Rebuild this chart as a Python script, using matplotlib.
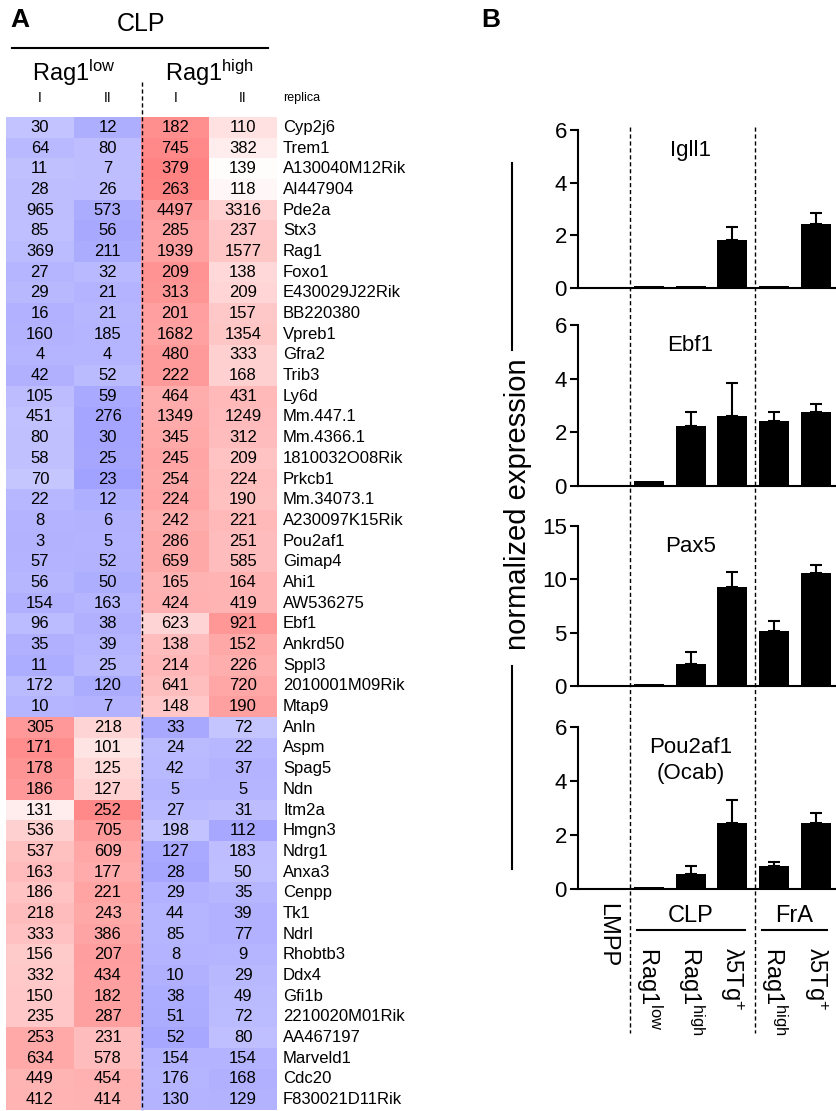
import numpy as np
import matplotlib
matplotlib.use('Agg')
import matplotlib.pyplot as plt
from matplotlib.lines import Line2D
from matplotlib.colors import LinearSegmentedColormap
from matplotlib.transforms import blended_transform_factory

plt.rcParams['font.family'] = ['Liberation Sans', 'DejaVu Sans']
plt.rcParams['mathtext.default'] = 'regular'

# ---- panel A data: microarray values per gene (Rag1low I/II, Rag1high I/II)
genes = ['Cyp2j6', 'Trem1', 'A130040M12Rik', 'AI447904', 'Pde2a', 'Stx3', 'Rag1',
         'Foxo1', 'E430029J22Rik', 'BB220380', 'Vpreb1', 'Gfra2', 'Trib3', 'Ly6d',
         'Mm.447.1', 'Mm.4366.1', '1810032O08Rik', 'Prkcb1', 'Mm.34073.1',
         'A230097K15Rik', 'Pou2af1', 'Gimap4', 'Ahi1', 'AW536275', 'Ebf1', 'Ankrd50',
         'Sppl3', '2010001M09Rik', 'Mtap9', 'Anln', 'Aspm', 'Spag5', 'Ndn', 'Itm2a',
         'Hmgn3', 'Ndrg1', 'Anxa3', 'Cenpp', 'Tk1', 'Ndrl', 'Rhobtb3', 'Ddx4', 'Gfi1b',
         '2210020M01Rik', 'AA467197', 'Marveld1', 'Cdc20', 'F830021D11Rik']
low_I = [30, 64, 11, 28, 965, 85, 369, 27, 29, 16, 160, 4, 42, 105, 451, 80, 58, 70, 22,
         8, 3, 57, 56, 154, 96, 35, 11, 172, 10, 305, 171, 178, 186, 131, 536, 537, 163,
         186, 218, 333, 156, 332, 150, 235, 253, 634, 449, 412]
low_II = [12, 80, 7, 26, 573, 56, 211, 32, 21, 21, 185, 4, 52, 59, 276, 30, 25, 23, 12,
          6, 5, 52, 50, 163, 38, 39, 25, 120, 7, 218, 101, 125, 127, 252, 705, 609, 177,
          221, 243, 386, 207, 434, 182, 287, 231, 578, 454, 414]
high_I = [182, 745, 379, 263, 4497, 285, 1939, 209, 313, 201, 1682, 480, 222, 464, 1349,
          345, 245, 254, 224, 242, 286, 659, 165, 424, 623, 138, 214, 641, 148, 33, 24, 42,
          5, 27, 198, 127, 28, 29, 44, 85, 8, 10, 38, 51, 52, 154, 176, 130]
high_II = [110, 382, 139, 118, 3316, 237, 1577, 138, 209, 157, 1354, 333, 168, 431, 1249,
           312, 209, 224, 190, 221, 251, 585, 164, 419, 921, 152, 226, 720, 190, 72, 22, 37,
           5, 31, 112, 183, 50, 35, 39, 77, 9, 29, 49, 72, 80, 154, 168, 129]
replica = ['I', 'II', 'I', 'II']

# ---- panel B data: qPCR, order LMPP, CLP Rag1low, CLP Rag1high, CLP l5Tg, FrA Rag1high, FrA l5Tg
igll1 = [0.05, 0.07, 0.07, 1.82, 0.07, 2.43]
igll1_err = [0, 0, 0, 0.50, 0, 0.42]
ebf1 = [0.05, 0.20, 2.24, 2.62, 2.44, 2.77]
ebf1_err = [0, 0, 0.50, 1.23, 0.30, 0.29]
pax5 = [0.12, 0.18, 2.06, 9.30, 5.18, 10.56]
pax5_err = [0, 0, 1.10, 1.40, 0.94, 0.78]
pou2af1 = [0.05, 0.08, 0.55, 2.46, 0.85, 2.46]
pou2af1_err = [0, 0, 0.30, 0.84, 0.15, 0.36]

W, H = 836, 1111
fig = plt.figure(figsize=(W / 100, H / 100), dpi=100)


def fax(x0, y0, x1, y1):
    return fig.add_axes([x0 / W, 1 - y1 / H, (x1 - x0) / W, (y1 - y0) / H])


def ftxt(x, y, s, **kw):
    return fig.text(x / W, 1 - y / H, s, **kw)


# ================= panel A =================
vals = np.array([low_I, low_II, high_I, high_II], dtype=float).T
z = (vals - vals.mean(axis=1, keepdims=True)) / vals.std(axis=1, keepdims=True)
cmap = LinearSegmentedColormap.from_list('bwr_soft', ['#7a7aff', '#ffffff', '#ff7a7a'])

axh = fax(6, 117, 277, 1110)
axh.imshow(z, cmap=cmap, vmin=-1.75, vmax=1.75, aspect='auto', interpolation='nearest')
axh.set_xlim(-0.5, 3.5)
axh.set_ylim(len(genes) - 0.5, -0.5)
axh.axis('off')
for i, g in enumerate(genes):
    for j in range(4):
        axh.text(j, i, str(int(vals[i, j])), ha='center', va='center', fontsize=12)
    axh.text(3.59, i, g, ha='left', va='center', fontsize=12, clip_on=False)

rowh = 993 / len(genes)
axh.plot([1.5, 1.5], [-0.5 - 35 / rowh, len(genes) - 0.5], color='k', lw=1,
         ls=(0, (3, 2)), clip_on=False)
for j, r in enumerate(replica):
    axh.text(j, -0.5 - 19 / rowh, r, ha='center', va='center', fontsize=10, clip_on=False)
axh.text(3.59, -0.5 - 19 / rowh, 'replica', ha='left', va='center', fontsize=9,
         clip_on=False)
axh.text(0.5, -0.5 - 44 / rowh, r'Rag1$^{low}$', ha='center', va='center', fontsize=17,
         clip_on=False)
axh.text(2.5, -0.5 - 44 / rowh, r'Rag1$^{high}$', ha='center', va='center', fontsize=17,
         clip_on=False)

ftxt(141, 24, 'CLP', ha='center', va='center', fontsize=18)
fig.add_artist(Line2D([12 / W, 268 / W], [1 - 47.5 / H] * 2, color='k', lw=1.5))
ftxt(10, 20, 'A', ha='left', va='center', fontsize=19, fontweight='bold')

# ================= panel B =================
ftxt(481, 20, 'B', ha='left', va='center', fontsize=19, fontweight='bold')

x = np.arange(6)
panels = [
    (130, 288, igll1, igll1_err, 6, [0, 2, 4, 6], 'Igll1'),
    (325, 486, ebf1, ebf1_err, 6, [0, 2, 4, 6], 'Ebf1'),
    (526, 686, pax5, pax5_err, 15, [0, 5, 10, 15], 'Pax5'),
    (727, 889, pou2af1, pou2af1_err, 6, [0, 2, 4, 6], 'Pou2af1\n(Ocab)'),
]
axes = []
for top, bot, v, e, ymax, ticks, title in panels:
    ax = fax(578, top, 836, bot)
    v = np.array(v)
    e = np.array(e)
    ax.bar(x, v, width=0.72, color='k')
    m = e > 0
    ax.errorbar(x[m], v[m], yerr=[np.zeros(m.sum()), e[m]], fmt='none', ecolor='k',
                elinewidth=1.5, capsize=4.5, capthick=1.5)
    ax.set_xlim(-0.694, 5.478)
    ax.set_ylim(0, ymax)
    ax.set_yticks(ticks)
    ax.set_xticks([])
    for s in ['top', 'right']:
        ax.spines[s].set_visible(False)
    for s in ['left', 'bottom']:
        ax.spines[s].set_linewidth(1.5)
    ax.tick_params(axis='y', length=6, width=1.5, labelsize=16, pad=2)
    ax.text(2, ymax * (1 - 10 / (bot - top)), title, ha='center', va='top', fontsize=16,
            linespacing=1.3)
    axes.append(ax)

axb = axes[-1]
tr = blended_transform_factory(axb.transData, fig.transFigure)
for xd in [0.55, 3.55]:
    fig.add_artist(Line2D([xd, xd], [1 - 127 / H, 1 - 1033 / H], transform=tr, color='k',
                          lw=1, ls=(0, (3, 2))))

# shared y label with bracket lines
ftxt(518, 504, 'normalized expression', rotation=90, ha='center', va='center', fontsize=21)
fig.add_artist(Line2D([512 / W] * 2, [1 - 163 / H, 1 - 350 / H], color='k', lw=1.5))
fig.add_artist(Line2D([512 / W] * 2, [1 - 666 / H, 1 - 869 / H], color='k', lw=1.5))

# x labels
xlabels = ['LMPP', r'Rag1$^{low}$', r'Rag1$^{high}$', r'λ5Tg$^{+}$', r'Rag1$^{high}$',
           r'λ5Tg$^{+}$']
for i, lab in enumerate(xlabels):
    ytop = 903 if i == 0 else 947
    axb.text(i, 1 - ytop / H, lab, transform=tr, rotation=270, ha='center', va='top',
             fontsize=17)
axb.text(2, 1 - 916 / H, 'CLP', transform=tr, ha='center', va='center', fontsize=17)
axb.text(4.47, 1 - 916 / H, 'FrA', transform=tr, ha='center', va='center', fontsize=17)
fig.add_artist(Line2D([0.72, 3.3], [1 - 930 / H] * 2, transform=tr, color='k', lw=1.5))
fig.add_artist(Line2D([3.71, 5.26], [1 - 930 / H] * 2, transform=tr, color='k', lw=1.5))

fig.savefig('out.png', dpi=100)
